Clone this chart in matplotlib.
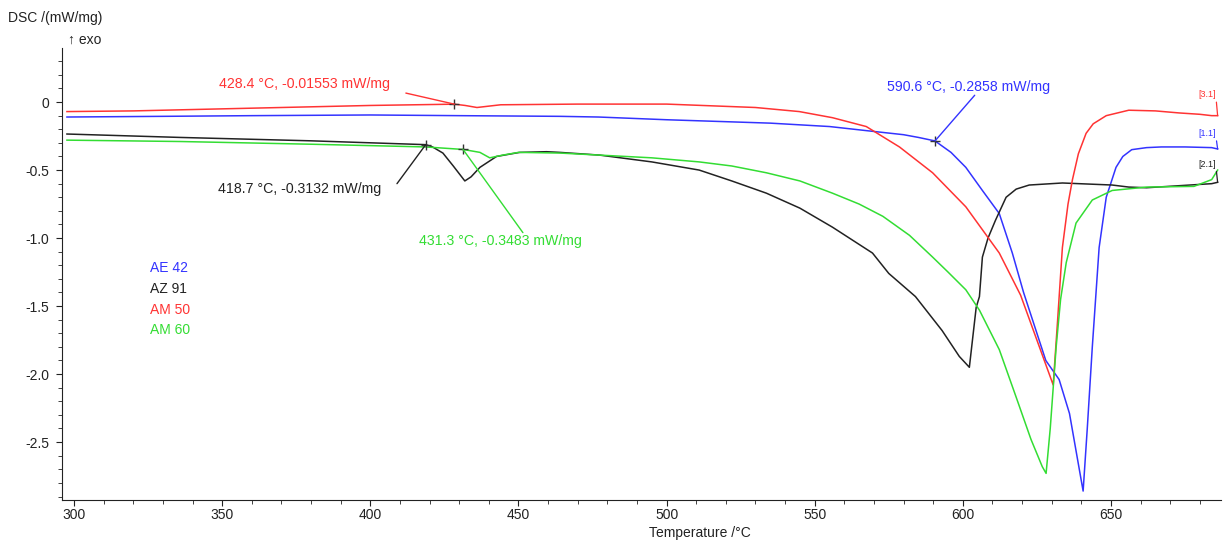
import matplotlib
matplotlib.use("Agg")
import matplotlib.pyplot as plt
from matplotlib.ticker import MultipleLocator

plt.rcParams['font.family'] = ['Liberation Sans', 'DejaVu Sans']

# AE 42 (blue)
t_ae42 = [297.6, 330, 360, 400, 430, 464, 477, 500, 535, 555, 567.4, 580, 585, 590.6,
          596, 601, 606.6, 612.3, 616.7, 620.5, 624.7, 628, 632.5, 636, 638.5, 640.6,
          642, 643.7, 646, 648.4, 651.7, 654, 657, 662, 667, 675, 684, 686]
y_ae42 = [-0.11, -0.105, -0.1, -0.095, -0.1, -0.105, -0.11, -0.13, -0.155, -0.18, -0.21,
          -0.24, -0.26, -0.2858, -0.37, -0.48, -0.65, -0.82, -1.11, -1.4, -1.68, -1.9,
          -2.04, -2.29, -2.6, -2.86, -2.4, -1.8, -1.07, -0.7, -0.48, -0.4, -0.35, -0.335,
          -0.33, -0.33, -0.335, -0.345]

# AZ 91 (black)
t_az91 = [297.6, 335.7, 380, 418.7, 421, 424.5, 428, 431.9, 434, 437, 442.6, 450.4,
          459.5, 464, 477.4, 495, 511, 522, 533.7, 545, 556, 569.5, 575, 584, 593, 598.8,
          602.2, 604.5, 605.6, 606.6, 608.5, 611, 614.6, 618, 622.4, 633.6, 650.4, 656,
          662, 673, 684, 686]
y_az91 = [-0.235, -0.26, -0.285, -0.3132, -0.33, -0.375, -0.47, -0.58, -0.55, -0.48,
          -0.4, -0.37, -0.365, -0.37, -0.39, -0.44, -0.5, -0.58, -0.67, -0.78, -0.92,
          -1.11, -1.26, -1.43, -1.68, -1.87, -1.95, -1.51, -1.43, -1.14, -1.0, -0.87, -0.7,
          -0.64, -0.61, -0.595, -0.61, -0.625, -0.63, -0.615, -0.6, -0.59]

# AM 50 (red)
t_am50 = [297.6, 320, 340, 370, 400, 428.4, 432, 436, 440, 444, 470, 500, 530, 544.8,
          556, 567.4, 578.6, 589.8, 601, 612.3, 619.5, 625, 630.5, 632, 633.6, 635.5,
          637, 639, 641.6, 644, 648.4, 656, 665, 673, 680, 684, 686]
y_am50 = [-0.07, -0.065, -0.055, -0.04, -0.025, -0.01553, -0.025, -0.04, -0.03, -0.02,
          -0.015, -0.015, -0.04, -0.07, -0.115, -0.18, -0.33, -0.52, -0.77, -1.11, -1.42,
          -1.75, -2.08, -1.6, -1.07, -0.75, -0.57, -0.38, -0.23, -0.16, -0.1, -0.06,
          -0.065, -0.08, -0.09, -0.1, -0.1]

# AM 60 (green)
t_am60 = [297.6, 335.7, 380, 418.7, 431.3, 437, 440.3, 444.7, 450, 464, 477.4, 495,
          511, 522, 533.7, 545, 556, 565, 573, 582, 589.8, 595, 601, 605.6, 612.3, 618,
          623, 626.8, 628.1, 629.5, 631.5, 633, 634.9, 638.2, 643.7, 650.4, 662, 678,
          684, 686]
y_am60 = [-0.28, -0.29, -0.31, -0.33, -0.3483, -0.37, -0.41, -0.39, -0.37, -0.375,
          -0.39, -0.41, -0.44, -0.47, -0.52, -0.58, -0.67, -0.75, -0.84, -0.98, -1.14,
          -1.25, -1.38, -1.53, -1.82, -2.17, -2.48, -2.68, -2.73, -2.4, -1.8, -1.45,
          -1.18, -0.89, -0.72, -0.65, -0.625, -0.62, -0.57, -0.5]

names = ["AE 42", "AZ 91", "AM 50", "AM 60"]
colors = ["#3333ff", "#222222", "#ff3333", "#33dd33"]
curves = [(t_ae42, y_ae42), (t_az91, y_az91), (t_am50, y_am50), (t_am60, y_am60)]
end_tags = ["[1.1]", "[2.1]", "[3.1]", None]

# marked points: (temperature, value, text, text position, leader start, series index)
marks = [
    (590.6, -0.2858, "590.6 °C, -0.2858 mW/mg", (574.5, 0.11), (604, 0.05), 0),
    (418.7, -0.3132, "418.7 °C, -0.3132 mW/mg", (348.5, -0.64), (409, -0.6), 1),
    (428.4, -0.01553, "428.4 °C, -0.01553 mW/mg", (349, 0.13), (412, 0.066), 2),
    (431.3, -0.3483, "431.3 °C, -0.3483 mW/mg", (416.5, -1.02), (451.5, -0.96), 3),
]

fig = plt.figure(figsize=(12.24, 5.4), dpi=100)
ax = fig.add_axes([0.0507, 0.074, 0.947, 0.837])

for (t, y), c in zip(curves, colors):
    ax.plot(t, y, color=c, lw=1.1)

for T, v, txt, tpos, lstart, i in marks:
    c = colors[i]
    ax.annotate("", xy=(T, v), xytext=lstart,
                arrowprops=dict(arrowstyle="-", color=c, lw=1.0, shrinkA=0, shrinkB=0))
    ax.plot([T], [v], marker="+", color="#333333", ms=7, mew=1.0)
    ax.text(tpos[0], tpos[1], txt, color=c, fontsize=10.2, ha="left", va="center")

tag_offsets = {0: 0.08, 1: 0.1, 2: 0.12}
for i, tag in enumerate(end_tags):
    if tag is None:
        continue
    t, y = curves[i]
    ax.annotate(tag, xy=(t[-1], y[-1]), xytext=(t[-1] - 0.5, y[-1] + tag_offsets[i]),
                color=colors[i], fontsize=6.5, ha="right", va="bottom",
                arrowprops=dict(arrowstyle="-", color=colors[i], lw=0.9,
                                shrinkA=0, shrinkB=0, relpos=(1, 0)))

for i, (n, c) in enumerate(zip(names, colors)):
    ax.text(325.6, -1.22 - 0.153 * i, n, color=c, fontsize=10, ha="left", va="center")

ax.set_xlim(295.95, 687.2)
ax.set_ylim(-2.926, 0.397)
ax.xaxis.set_major_locator(MultipleLocator(50))
ax.xaxis.set_minor_locator(MultipleLocator(10))
ax.yaxis.set_major_locator(MultipleLocator(0.5))
ax.yaxis.set_minor_locator(MultipleLocator(0.1))
ax.set_yticks([0, -0.5, -1.0, -1.5, -2.0, -2.5])
ax.set_yticklabels(["0", "-0.5", "-1.0", "-1.5", "-2.0", "-2.5"])
ax.tick_params(which="both", direction="out", labelsize=10, colors="#222222")
ax.tick_params(axis="y", which="major", length=4, pad=5)
ax.tick_params(axis="x", which="major", length=4, pad=2)
ax.tick_params(which="minor", length=3)
for s in ["top", "right"]:
    ax.spines[s].set_visible(False)
for s in ["left", "bottom"]:
    ax.spines[s].set_color("#222222")

fig.text(8 / 1224, 1 - 18 / 540, "DSC /(mW/mg)", fontsize=10, ha="left", va="center", color="#222222")
fig.text(68 / 1224, 1 - 40 / 540, "↑ exo", fontsize=10, ha="left", va="center", color="#222222")
fig.text(700 / 1224, 1 - 533 / 540, "Temperature /°C", fontsize=10, ha="center", va="center", color="#222222")

fig.savefig("out.png", dpi=100)
